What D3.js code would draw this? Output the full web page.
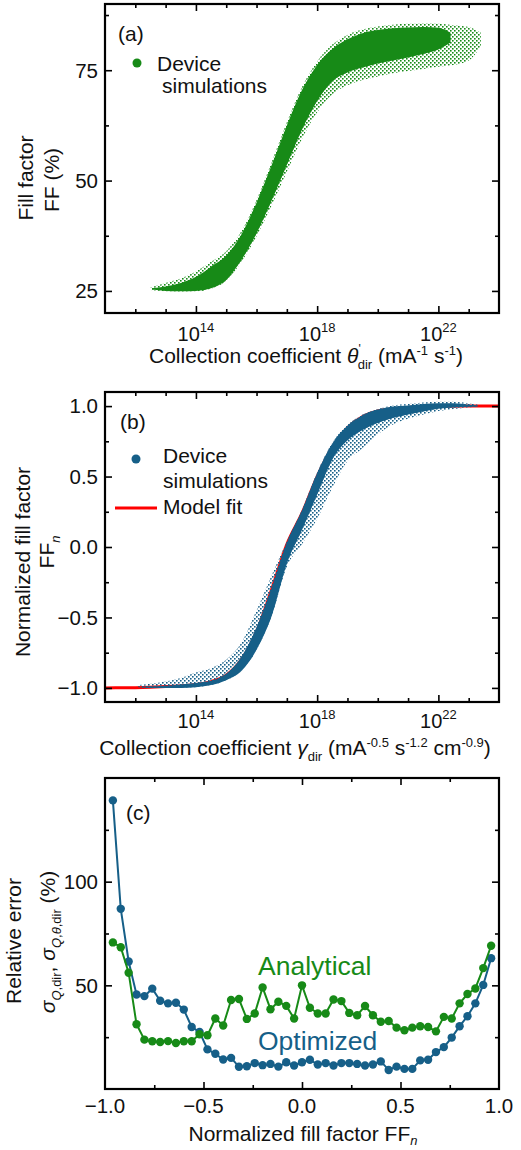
<!DOCTYPE html>
<html>
<head>
<meta charset="utf-8">
<script src="https://cdn.jsdelivr.net/npm/d3@7"></script>
<style>
  body { margin: 0; background: #fff; }
  text { font-family: "Liberation Sans", Arial, Helvetica, sans-serif; fill: #111; }
</style>
</head>
<body>
<script>
// ---------------- data ----------------

// x axis of (a) and (b): decades of the collection coefficient
var decades = [12, 13, 14, 15, 16, 17, 18, 19, 20, 21, 22, 23];
var decadeLabels = [14, 18, 22];

// (a) device simulations, FF (%) -- dense core and sparse fringe of the cloud
var aLog = [12.55, 13, 13.5, 14, 14.5, 15, 15.5, 16, 16.5, 17, 17.5, 18, 18.5, 19, 19.5, 20, 20.5, 21, 21.5, 22, 22.4];
var aCoreLow = [25.3, 25.0, 24.9, 25.0, 25.6, 27.5, 32.0, 38.0, 45.5, 53.5, 61.5, 68.0, 72.5, 74.5, 75.6, 76.5, 77.2, 77.9, 78.7, 79.7, 81.3];
var aCoreHigh = [25.6, 26.0, 26.8, 28.2, 30.5, 33.0, 37.8, 45.0, 53.5, 62.5, 70.5, 76.2, 79.8, 82.0, 83.4, 84.1, 84.5, 84.7, 84.8, 84.6, 83.5];
var aFringeLog = [12.5, 13, 13.5, 14, 14.5, 15, 15.5, 16, 16.5, 17, 17.5, 18, 18.5, 19, 19.5, 20, 20.5, 21, 21.5, 22, 22.5, 23, 23.4];
var aFringeLow = [25.2, 24.9, 24.8, 24.9, 25.5, 27.3, 31.6, 37.4, 44.4, 52.0, 59.5, 65.5, 69.5, 71.6, 72.8, 73.6, 74.3, 74.8, 75.3, 75.8, 76.2, 77.2, 80.5];
var aFringeHigh = [25.8, 26.8, 27.8, 29.4, 31.6, 34.0, 38.5, 45.6, 54.2, 63.2, 71.2, 77.0, 80.8, 83.0, 84.2, 84.9, 85.3, 85.5, 85.6, 85.5, 85.2, 84.8, 83.5];

// (b) device simulations, normalized FF
var bLog = [12.1, 12.5, 13, 13.5, 14, 14.5, 15, 15.5, 16, 16.5, 17, 17.5, 18, 18.5, 19, 19.5, 20, 20.5, 21, 21.5, 22, 22.5, 23, 23.3];
var bCoreLow = [-0.995, -1.0, -1.0, -1.0, -0.995, -0.98, -0.945, -0.88, -0.73, -0.49, -0.12, 0.12, 0.37, 0.62, 0.755, 0.83, 0.88, 0.915, 0.94, 0.962, 0.982, 0.99, 0.995, 0.997];
var bCoreHigh = [-0.995, -0.99, -0.985, -0.975, -0.965, -0.95, -0.9, -0.78, -0.57, -0.29, 0.03, 0.26, 0.525, 0.735, 0.86, 0.935, 0.975, 0.997, 1.005, 1.015, 1.02, 1.02, 1.01, 1.005];
var bFringeLow = [-0.995, -1.0, -1.0, -1.0, -0.995, -0.98, -0.945, -0.88, -0.73, -0.49, -0.14, 0.02, 0.2, 0.42, 0.61, 0.7, 0.8, 0.87, 0.91, 0.94, 0.965, 0.98, 0.99, 0.995];
var bFringeHigh = [-0.98, -0.97, -0.955, -0.93, -0.89, -0.86, -0.8, -0.68, -0.45, -0.2, 0.04, 0.265, 0.53, 0.74, 0.865, 0.94, 0.98, 1.005, 1.015, 1.025, 1.03, 1.03, 1.02, 1.01];

// (b) model fit
var fitLog = [11, 12, 13, 14, 14.5, 15, 15.5, 16, 16.5, 17, 17.5, 18, 18.5, 19, 19.5, 20, 21, 22, 23, 24];
var fitY = [-1.0, -0.998, -0.99, -0.975, -0.955, -0.91, -0.8, -0.6, -0.3, 0.02, 0.24, 0.5, 0.71, 0.845, 0.925, 0.965, 0.99, 0.998, 1.0, 1.0];

// (c) relative error vs normalized FF
var ffn = [-0.96, -0.92, -0.88, -0.84, -0.80, -0.76, -0.72, -0.68, -0.64, -0.60, -0.56, -0.52, -0.48, -0.44, -0.40, -0.36, -0.32,
  -0.28, -0.24, -0.20, -0.16, -0.12, -0.08, -0.04, 0.00, 0.04, 0.08, 0.12, 0.16, 0.20, 0.24, 0.28, 0.32, 0.36, 0.40,
  0.44, 0.48, 0.52, 0.56, 0.60, 0.64, 0.68, 0.72, 0.76, 0.80, 0.84, 0.88, 0.92, 0.96];
var optimized = [139.2, 86.9, 61.5, 45.6, 44.8, 48.4, 42.6, 41.3, 41.6, 38.3, 29.9, 27.5, 19.1, 17.0, 14.2, 15.0, 10.7,
  11.0, 12.5, 11.5, 12.1, 10.8, 12.9, 11.3, 12.9, 14.1, 11.8, 12.5, 11.3, 12.5, 12.5, 12.1, 11.3, 11.8, 13.3,
  9.2, 10.8, 9.7, 9.7, 13.8, 14.1, 17.8, 20.2, 24.8, 30.3, 35.1, 41.3, 50.2, 63.1];
var analytical = [70.7, 68.4, 56.1, 31.2, 23.8, 23.0, 22.7, 23.1, 22.2, 23.0, 23.0, 26.4, 25.9, 34.0, 30.6, 42.9, 43.4,
  33.8, 36.4, 49.0, 38.5, 42.1, 40.1, 34.0, 50.0, 39.2, 36.4, 36.4, 43.2, 42.4, 36.7, 35.6, 40.0, 35.6, 32.4,
  32.8, 29.6, 28.3, 29.6, 30.3, 29.9, 27.8, 34.8, 34.0, 41.3, 45.8, 48.5, 58.3, 69.1];

var green = "#178a17";
var blue = "#165f88";

// ---------------- layout ----------------
var svgWidth = 521;
var svgHeight = 1150;
var left = 105, right = 499;

var svg = d3.select("body")
  .append("svg")
  .attr("width", svgWidth)
  .attr("height", svgHeight);

svg.append("rect").attr("width", svgWidth).attr("height", svgHeight).attr("fill", "#fff");

// speckle fills for the sparse edges of the scatter clouds
var defs = svg.append("defs");
[["speckG", green], ["speckB", blue]].forEach(function (p) {
  var pat = defs.append("pattern")
    .attr("id", p[0])
    .attr("patternUnits", "userSpaceOnUse")
    .attr("width", 4).attr("height", 4);
  pat.append("rect").attr("x", 0).attr("y", 0).attr("width", 1.6).attr("height", 1.6).attr("fill", p[1]);
  pat.append("rect").attr("x", 2).attr("y", 2).attr("width", 1.6).attr("height", 1.6).attr("fill", p[1]);
});

var xLog = d3.scaleLog().domain([1e11, 1e24]).range([left, right]);
var yA = d3.scaleLinear().domain([20, 90]).range([313, 4]);
var yB = d3.scaleLinear().domain([-1.1, 1.1]).range([702, 392]);
var xC = d3.scaleLinear().domain([-1, 1]).range([left, right]);
var yC = d3.scaleLinear().domain([0, 150]).range([1089, 778]);

function pow10(v) { return Math.pow(10, v); }

// inward ticks on all four sides, then the box
function drawFrame(x, y, xMinor, xMajor, yMinor, yMajor) {
  var g = svg.append("g");
  var top = y.range()[1], bot = y.range()[0];
  [[xMinor, 4], [xMajor, 7]].forEach(function (s) {
    g.append("g").attr("transform", `translate(0,${bot})`)
      .call(d3.axisBottom(x).tickValues(s[0]).tickSize(-s[1]).tickFormat(""));
    g.append("g").attr("transform", `translate(0,${top})`)
      .call(d3.axisTop(x).tickValues(s[0]).tickSize(-s[1]).tickFormat(""));
  });
  [[yMinor, 4], [yMajor, 7]].forEach(function (s) {
    g.append("g").attr("transform", `translate(${left},0)`)
      .call(d3.axisLeft(y).tickValues(s[0]).tickSize(-s[1]).tickFormat(""));
    g.append("g").attr("transform", `translate(${right},0)`)
      .call(d3.axisRight(y).tickValues(s[0]).tickSize(-s[1]).tickFormat(""));
  });
  g.selectAll(".domain").remove();
  g.selectAll(".tick line").attr("stroke", "#000").attr("stroke-width", 1.6);
  g.append("rect")
    .attr("x", left).attr("y", top)
    .attr("width", right - left).attr("height", bot - top)
    .attr("fill", "none").attr("stroke", "#000").attr("stroke-width", 2.2);
}

function yLabels(y, vals, fmt) {
  svg.append("g").selectAll("text")
    .data(vals).enter().append("text")
    .attr("x", 98)
    .attr("y", function (d) { return y(d); })
    .attr("dy", "0.36em")
    .attr("text-anchor", "end")
    .attr("font-size", 20.5)
    .text(fmt);
}

function decadeTickLabels(baseline) {
  var lab = svg.append("g").selectAll("text")
    .data(decadeLabels).enter().append("text")
    .attr("x", function (d) { return xLog(pow10(d)); })
    .attr("y", baseline)
    .attr("text-anchor", "middle")
    .attr("font-size", 20);
  lab.append("tspan").text("10");
  lab.append("tspan").attr("font-size", 13).attr("dy", -9).text(function (d) { return d; });
}

function band(logs, lo, hi, y, fill) {
  var pts = logs.map(function (l, i) { return { l: l, lo: lo[i], hi: hi[i] }; });
  svg.append("path")
    .datum(pts)
    .attr("fill", fill)
    .attr("d", d3.area()
      .curve(d3.curveMonotoneX)
      .x(function (d) { return xLog(pow10(d.l)); })
      .y0(function (d) { return y(d.lo); })
      .y1(function (d) { return y(d.hi); }));
}

// ---------------- panel (a) ----------------
band(aFringeLog, aFringeLow, aFringeHigh, yA, "url(#speckG)");
band(aLog, aCoreLow, aCoreHigh, yA, green);

drawFrame(xLog,
  yA,
  decades.filter(function (d) { return decadeLabels.indexOf(d) < 0; }).map(pow10),
  decadeLabels.map(pow10),
  [37.5, 62.5, 87.5], [25, 50, 75]);
yLabels(yA, [25, 50, 75], function (d) { return d; });
decadeTickLabels(341);

svg.append("text").attr("x", 118).attr("y", 41).attr("font-size", 21).text("(a)");
svg.append("circle").attr("cx", 137).attr("cy", 63).attr("r", 4.5).attr("fill", green);
svg.append("text").attr("x", 157).attr("y", 71).attr("font-size", 21).text("Device");
svg.append("text").attr("x", 162).attr("y", 93).attr("font-size", 21).text("simulations");

var ta = svg.append("text").attr("x", 306).attr("y", 363).attr("text-anchor", "middle").attr("font-size", 21);
ta.append("tspan").text("Collection coefficient ");
ta.append("tspan").attr("font-style", "italic").text("\u03B8");
ta.append("tspan").attr("font-size", 12).attr("dy", -10).text("'");
ta.append("tspan").attr("font-size", 13).attr("dx", -3).attr("dy", 16).text("dir");
ta.append("tspan").attr("dy", -6).text(" (mA");
ta.append("tspan").attr("font-size", 13).attr("dy", -8).text("-1");
ta.append("tspan").attr("dy", 8).text(" s");
ta.append("tspan").attr("font-size", 13).attr("dy", -8).text("-1");
ta.append("tspan").attr("dy", 8).text(")");

svg.append("text").attr("transform", "translate(33,178) rotate(-90)")
  .attr("text-anchor", "middle").attr("font-size", 21).text("Fill factor");
svg.append("text").attr("transform", "translate(59,180) rotate(-90)")
  .attr("text-anchor", "middle").attr("font-size", 21).text("FF (%)");

// ---------------- panel (b) ----------------
var fitPts = fitLog.map(function (l, i) { return { l: l, v: fitY[i] }; });
svg.append("path")
  .datum(fitPts)
  .attr("fill", "none")
  .attr("stroke", "#ff0000")
  .attr("stroke-width", 3)
  .attr("d", d3.line()
    .curve(d3.curveMonotoneX)
    .x(function (d) { return xLog(pow10(d.l)); })
    .y(function (d) { return yB(d.v); }));

band(bLog, bFringeLow, bFringeHigh, yB, "url(#speckB)");
band(bLog, bCoreLow, bCoreHigh, yB, blue);

drawFrame(xLog,
  yB,
  decades.filter(function (d) { return decadeLabels.indexOf(d) < 0; }).map(pow10),
  decadeLabels.map(pow10),
  [-0.75, -0.25, 0.25, 0.75], [-1, -0.5, 0, 0.5, 1]);
yLabels(yB, [-1, -0.5, 0, 0.5, 1], d3.format(".1f"));
decadeTickLabels(728);

svg.append("text").attr("x", 120).attr("y", 429).attr("font-size", 21).text("(b)");
svg.append("circle").attr("cx", 136).attr("cy", 459).attr("r", 4.5).attr("fill", blue);
svg.append("text").attr("x", 163).attr("y", 463).attr("font-size", 21).text("Device");
svg.append("text").attr("x", 163).attr("y", 488).attr("font-size", 21).text("simulations");
svg.append("line").attr("x1", 115).attr("x2", 157).attr("y1", 508).attr("y2", 508)
  .attr("stroke", "#ff0000").attr("stroke-width", 3);
svg.append("text").attr("x", 163).attr("y", 514).attr("font-size", 21).text("Model fit");

var tb = svg.append("text").attr("x", 295).attr("y", 755).attr("text-anchor", "middle").attr("font-size", 21);
tb.append("tspan").text("Collection coefficient ");
tb.append("tspan").attr("font-style", "italic").text("\u03B3");
tb.append("tspan").attr("font-size", 13).attr("dy", 6).text("dir");
tb.append("tspan").attr("dy", -6).text(" (mA");
tb.append("tspan").attr("font-size", 13).attr("dy", -8).text("-0.5");
tb.append("tspan").attr("dy", 8).text(" s");
tb.append("tspan").attr("font-size", 13).attr("dy", -8).text("-1.2");
tb.append("tspan").attr("dy", 8).text(" cm");
tb.append("tspan").attr("font-size", 13).attr("dy", -8).text("-0.9");
tb.append("tspan").attr("dy", 8).text(")");

svg.append("text").attr("transform", "translate(30,562) rotate(-90)")
  .attr("text-anchor", "middle").attr("font-size", 21).text("Normalized fill factor");
var fb = svg.append("text").attr("transform", "translate(54,552) rotate(-90)")
  .attr("text-anchor", "middle").attr("font-size", 21);
fb.append("tspan").text("FF");
fb.append("tspan").attr("font-size", 13).attr("font-style", "italic").attr("dy", 6).text("n");

// ---------------- panel (c) ----------------
function series(vals, color) {
  var pts = ffn.map(function (f, i) { return { f: f, v: vals[i] }; });
  svg.append("path")
    .datum(pts)
    .attr("fill", "none")
    .attr("stroke", color)
    .attr("stroke-width", 2)
    .attr("d", d3.line()
      .x(function (d) { return xC(d.f); })
      .y(function (d) { return yC(d.v); }));
  svg.append("g").selectAll("circle")
    .data(pts).enter().append("circle")
    .attr("cx", function (d) { return xC(d.f); })
    .attr("cy", function (d) { return yC(d.v); })
    .attr("r", 4.2)
    .attr("fill", color);
}
series(optimized, blue);
series(analytical, green);

drawFrame(xC, yC,
  [-0.75, -0.25, 0.25, 0.75], [-0.5, 0, 0.5],
  [25, 75, 125], [50, 100]);
yLabels(yC, [50, 100], function (d) { return d; });

svg.append("g").selectAll("text")
  .data([-1, -0.5, 0, 0.5, 1]).enter().append("text")
  .attr("x", function (d) { return xC(d); })
  .attr("y", 1113)
  .attr("text-anchor", "middle")
  .attr("font-size", 20.5)
  .text(d3.format(".1f"));

svg.append("text").attr("x", 126).attr("y", 820).attr("font-size", 21).text("(c)");
svg.append("text").attr("x", 258).attr("y", 975).attr("font-size", 26.5)
  .style("fill", green).text("Analytical");
svg.append("text").attr("x", 258).attr("y", 1050).attr("font-size", 26.5)
  .style("fill", blue).text("Optimized");

var tc = svg.append("text").attr("x", 303).attr("y", 1141).attr("text-anchor", "middle").attr("font-size", 21);
tc.append("tspan").text("Normalized fill factor FF");
tc.append("tspan").attr("font-size", 13).attr("font-style", "italic").attr("dy", 4).text("n");

svg.append("text").attr("transform", "translate(21,941) rotate(-90)")
  .attr("text-anchor", "middle").attr("font-size", 21).text("Relative error");
var sc = svg.append("text").attr("transform", "translate(55,942) rotate(-90)")
  .attr("text-anchor", "middle").attr("font-size", 21);
sc.append("tspan").attr("font-style", "italic").text("\u03C3");
sc.append("tspan").attr("font-size", 13).attr("dy", 6).html("<tspan font-style='italic'>Q</tspan>,dir");
sc.append("tspan").attr("dy", -6).text(", ");
sc.append("tspan").attr("font-style", "italic").text("\u03C3");
sc.append("tspan").attr("font-size", 13).attr("dy", 6)
  .html("<tspan font-style='italic'>Q</tspan>,<tspan font-style='italic'>\u03B8</tspan>,dir");
sc.append("tspan").attr("dy", -6).text(" (%)");
</script>
</body>
</html>
